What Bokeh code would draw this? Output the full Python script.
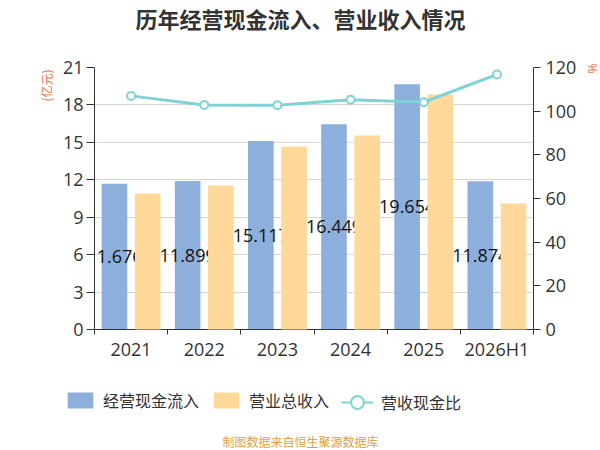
import numpy as np
from bokeh.plotting import figure
from bokeh.layouts import column
from bokeh.models import (ColumnDataSource, Range1d, LinearAxis, FixedTicker,
                          Label, LabelSet, Legend, LegendItem)
from bokeh.transform import dodge
from bokeh.core.properties import value
from bokeh.embed import file_html
from bokeh.resources import INLINE

# ---- data ----
years = ["2021", "2022", "2023", "2024", "2025", "2026H1"]
cash_inflow = [11.676, 11.899, 15.117, 16.449, 19.654, 11.874]   # 经营现金流入 (亿元)
revenue = [10.90, 11.54, 14.67, 15.55, 18.84, 10.10]             # 营业总收入 (亿元)
ratio = [107.0, 102.8, 102.7, 105.2, 104.1, 116.8]               # 营收现金比 (%)
left_ticks = [0, 3, 6, 9, 12, 15, 18, 21]
right_ticks = [0, 20, 40, 60, 80, 100, 120]
cash_labels = ["11.676", "11.899", "15.117", "16.449", "19.654", "11.874"]
series_names = ["经营现金流入", "营业总收入", "营收现金比"]

BLUE = "#8DAFDB"
ORANGE = "#FFD89A"
TEAL = "#7ED3D7"
AXIS = "#333333"
CJK = "Noto Sans CJK SC"
NUM = "Open Sans"

W = 600
H_MAIN = 372
H_LEG = 78

idx = np.arange(len(years))
src = ColumnDataSource(dict(
    x=idx + 0.5,
    cash=cash_inflow,
    rev=revenue,
    ratio=ratio,
    ymid=np.array(cash_inflow) / 2.0,
    lab=cash_labels,
))

p = figure(width=W, height=H_MAIN, x_range=Range1d(0, len(years)),
           y_range=Range1d(left_ticks[0], left_ticks[-1]),
           output_backend="svg", toolbar_location=None,
           min_border_left=94, min_border_right=W - 533,
           min_border_top=67, min_border_bottom=H_MAIN - 329)
p.outline_line_color = None
p.background_fill_color = "white"
p.border_fill_color = "white"
p.extra_y_ranges = {"pct": Range1d(right_ticks[0], right_ticks[-1])}

# x axis: labels at centres, ticks at boundaries
xa = p.xaxis[0]
xa.ticker = FixedTicker(ticks=list(idx + 0.5), minor_ticks=list(range(len(years) + 1)))
xa.major_label_overrides = {float(i + 0.5): y for i, y in enumerate(years)}
xa.major_tick_out = 0
xa.major_tick_in = 0
xa.minor_tick_out = 5
xa.minor_tick_in = 0
xa.minor_tick_line_color = AXIS
xa.axis_line_color = AXIS
xa.major_label_text_font = NUM
xa.major_label_text_font_size = "18px"
xa.major_label_text_color = AXIS
xa.major_label_standoff = 2

ya = p.yaxis[0]
ya.ticker = FixedTicker(ticks=left_ticks)
ya.major_tick_out = 8
ya.major_tick_in = 0
ya.minor_tick_line_color = None
ya.axis_line_color = AXIS
ya.major_tick_line_color = AXIS
ya.major_label_text_font = NUM
ya.major_label_text_font_size = "18px"
ya.major_label_text_color = AXIS
ya.major_label_standoff = 3

ra = LinearAxis(y_range_name="pct", ticker=FixedTicker(ticks=right_ticks))
ra.major_tick_out = 7
ra.major_tick_in = 0
ra.minor_tick_line_color = None
ra.axis_line_color = AXIS
ra.major_tick_line_color = AXIS
ra.major_label_text_font = NUM
ra.major_label_text_font_size = "18px"
ra.major_label_text_color = AXIS
ra.major_label_standoff = 5
p.add_layout(ra, "right")

p.xgrid.visible = False
p.ygrid.grid_line_color = "#d4d4d4"
p.ygrid.grid_line_width = 1

# bars
r_blue = p.vbar(x=dodge("x", -0.227, range=p.x_range), top="cash", width=0.35,
                source=src, fill_color=BLUE, line_color=None)

labels = LabelSet(x=dodge("x", -0.227, range=p.x_range), y="ymid", text="lab",
                  source=src, text_align="center", text_baseline="middle",
                  text_font=value(NUM), text_font_size="18px", text_color="#111111")
p.add_layout(labels)

r_orange = p.vbar(x=dodge("x", 0.227, range=p.x_range), top="rev", width=0.35,
                  source=src, fill_color=ORANGE, line_color=None, level="overlay")

p.line(x="x", y="ratio", source=src, y_range_name="pct", line_color=TEAL,
       line_width=3, level="overlay")
p.scatter(x="x", y="ratio", source=src, y_range_name="pct", size=8,
          fill_color="white", line_color=TEAL, line_width=2, level="overlay")

# texts in the side panels (canvas coordinates)
p.add_layout(Label(x=300, y=17, x_units="canvas", y_units="canvas",
                   text="历年经营现金流入、营业收入情况",
                   text_align="center", text_baseline="middle",
                   text_font=CJK, text_font_size="22px",
                   text_font_style="bold", text_color=AXIS), "above")
p.add_layout(Label(x=46, y=85, x_units="canvas", y_units="canvas",
                   text="(亿元)", text_align="center",
                   angle=np.pi / 2, text_baseline="middle",
                   text_font=CJK, text_font_size="12px",
                   text_color="#E8743B"), "left")
p.add_layout(Label(x=591, y=68, x_units="canvas", y_units="canvas",
                   text="%", text_align="center",
                   angle=np.pi / 2, text_baseline="middle",
                   text_font=NUM, text_font_size="13px",
                   text_color="#E8743B"), "right")

# ---- legend + source strip ----
lf = figure(width=W, height=H_LEG, x_range=Range1d(0, W), y_range=Range1d(0, H_LEG),
            x_axis_type=None, y_axis_type=None, output_backend="svg",
            toolbar_location=None, min_border=0, title=None)
lf.outline_line_color = None
lf.grid.visible = False
lf.background_fill_color = "white"
lf.border_fill_color = "white"
for fig in (p, lf):
    try:
        fig.frame_align = False
    except Exception:
        pass

# hidden renderers that only supply the legend glyphs
lg_blue = lf.vbar(x="x", top="cash", width=0.35, source=src, fill_color=BLUE,
                  line_color=None, visible=False)
lg_orange = lf.vbar(x="x", top="rev", width=0.35, source=src, fill_color=ORANGE,
                    line_color=None, visible=False)
lg_line = lf.line(x="x", y="ratio", source=src, line_color=TEAL, line_width=2,
                  visible=False)
lg_pt = lf.scatter(x="x", y="ratio", source=src, fill_color="white",
                   line_color=TEAL, line_width=2, visible=False)

common = dict(orientation="horizontal", label_text_font_size="16px",
              label_text_font=CJK, label_text_color=AXIS, padding=0, margin=0,
              border_line_color=None, background_fill_alpha=0,
              inactive_fill_alpha=0, label_height=20)

legend1 = Legend(items=[
    LegendItem(label=series_names[0], renderers=[lg_blue]),
    LegendItem(label=series_names[1], renderers=[lg_orange]),
], location=(64, 38), glyph_width=32, glyph_height=20, spacing=11,
    label_standoff=7, **common)
lf.add_layout(legend1)

legend2 = Legend(items=[
    LegendItem(label=series_names[2], renderers=[lg_line, lg_pt]),
], location=(341, 30), glyph_width=32, glyph_height=36, spacing=0,
    label_standoff=8, **common)
lf.add_layout(legend2)

lf.add_layout(Label(x=300, y=69, x_units="canvas", y_units="canvas",
                    text="制图数据来自恒生聚源数据库", text_align="center",
                    text_baseline="middle", text_font=CJK, text_font_size="12px",
                    text_color="#D9A24A"))

layout = column(p, lf, spacing=0)
open("out.html", "w").write(file_html(layout, INLINE))
